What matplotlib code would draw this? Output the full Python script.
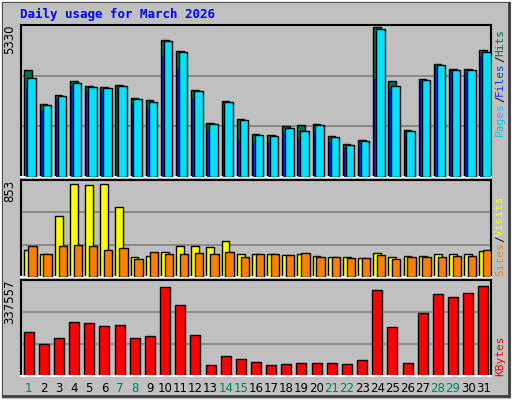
import matplotlib
matplotlib.use("Agg")
import matplotlib.pyplot as plt
from matplotlib.patches import Rectangle

days = list(range(1, 32))
pages = [3816,2592,2916,3420,3240,3204,3276,2808,2736,4860,4464,3096,1908,2700,2052,1512,1476,1800,1836,1872,1440,1188,1332,5328,3420,1656,3492,4032,3852,3852,4500]
hits = [3528,2556,2880,3348,3204,3168,3240,2772,2664,4824,4428,3060,1872,2664,2016,1476,1440,1728,1620,1836,1404,1152,1296,5256,3240,1620,3456,3996,3816,3816,4428]
files = [3132,2340,2772,3240,3060,3060,3204,2520,2412,4284,3852,2808,1620,1836,1332,1224,1224,1584,1332,1584,1260,1044,1224,3492,3132,1476,3420,3924,3780,3708,4284]
visits = [248,211,559,853,844,853,642,183,193,229,284,284,275,330,211,211,211,202,211,193,183,183,174,220,183,193,193,211,211,211,238]
sites = [284,211,284,293,284,248,266,165,229,211,211,220,211,229,183,211,211,202,220,183,183,174,174,202,165,183,183,183,193,193,248]
kbytes = [165105,121077,143091,205464,198126,187119,190788,143091,150429,333879,267837,154098,40359,77049,62373,51366,40359,44028,47697,47697,47697,44028,58704,322872,183450,47697,238485,308196,297189,311865,337557]
weekend = [1,7,8,14,15,21,22,28,29]
max_labels = ["5330", "853", "337557"]

fig = plt.figure(figsize=(5.12, 4.0), dpi=100, facecolor="#c0c0c0")
fig.patches.append(Rectangle((1/512, 4/400), 508/512, 395/400, transform=fig.transFigure,
                             fill=False, edgecolor="#404040", lw=2))
fig.patches.append(Rectangle((0.0, 0.0), 1, 1, transform=fig.transFigure,
                             fill=False, edgecolor="white", lw=2))
fig.text(20/512, 1-14/400, "Daily usage for March 2026", color="#0000ff",
         family="DejaVu Sans Mono", weight="bold", fontsize=9, va="center")

L, R = 21/512, 491/512
def mkax(top, bot, ymax):
    ax = fig.add_axes([L, 1-bot/400, R-L, (bot-top)/400])
    ax.set_facecolor("#c0c0c0")
    ax.set_xlim(0.5, 31.5)
    ax.set_ylim(0, ymax)
    for g in (ymax/3, 2*ymax/3):
        ax.axhline(g, color="#808080", lw=1.2, zorder=0)
    ax.set_xticks([]); ax.set_yticks([])
    for s in ax.spines.values():
        s.set_color("black"); s.set_linewidth(1.5)
    ax.spines["bottom"].set_color("white")
    return ax

ek = dict(edgecolor="black", linewidth=1.0)
ax1 = mkax(25, 177, 5400)
ax1.bar([d-0.27 for d in days], pages, width=0.5, align="edge", color="#006f4f", **ek, zorder=2)
ax1.bar([d-0.2 for d in days], files, width=0.12, align="edge", color="#0030ff", edgecolor="#000080", lw=0.5, zorder=3)
ax1.bar([d-0.08 for d in days], hits, width=0.56, align="edge", color="#00e0ff", **ek, zorder=4)

ax2 = mkax(180, 277, 890)
ax2.bar([d-0.27 for d in days], visits, width=0.52, align="edge", color="#ffff00", **ek, zorder=2)
ax2.bar([d-0.02 for d in days], sites, width=0.55, align="edge", color="#ff8000", **ek, zorder=3)

ax3 = mkax(280, 376, 362000)
ax3.bar(days, kbytes, width=0.66, color="#ff0000", **ek, zorder=2)
ax3.set_xticks(days)
ax3.set_xticklabels([str(d) for d in days], fontsize=8.5)
ax3.tick_params(axis="x", length=0, pad=4)
for t, d in zip(ax3.get_xticklabels(), days):
    t.set_color("#00805f" if d in weekend else "black")

for ax, lab in zip((ax1, ax2, ax3), max_labels):
    ax.text(-0.025, 1.0, lab, transform=ax.transAxes, rotation=90, ha="center", va="top", fontsize=8.5)

def rlabel(parts, start_px):
    y = start_px
    for txt, col in parts:
        fig.text(500/512, 1-y/400, txt, rotation=90, ha="center", va="bottom",
                 color=col, family="DejaVu Sans Mono", fontsize=8)
        y -= len(txt) * 6.7
rlabel([("Pages", "#00c0ff"), ("/", "black"), ("Files", "#0040ff"), ("/", "black"), ("Hits", "#006f4f")], 136)
rlabel([("Sites", "#ff8000"), ("/", "black"), ("Visits", "#ffff00")], 276)
rlabel([("KBytes", "#ff0000")], 376)

fig.savefig("out.png", dpi=100, facecolor=fig.get_facecolor())
